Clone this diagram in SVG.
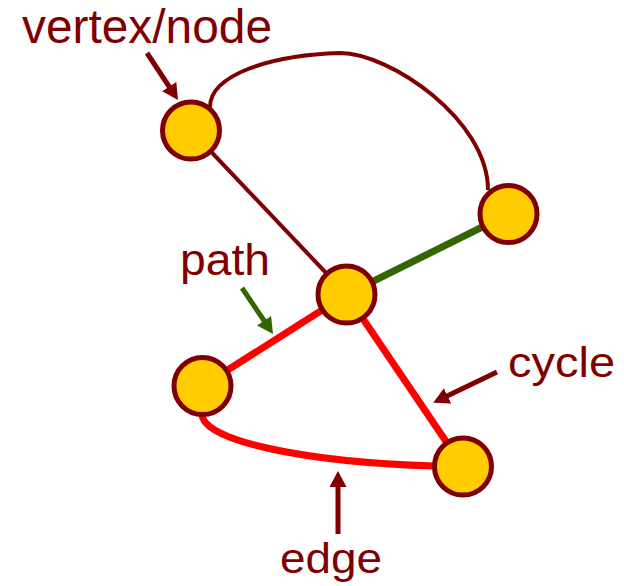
<svg xmlns="http://www.w3.org/2000/svg" width="624" height="586" viewBox="0 0 624 586">
<style>
.lbl{font-family:"Liberation Sans",Arial,sans-serif;fill:#800000}
.node{fill:#FFCC00;stroke:#800000;stroke-width:5}
.thin{fill:none;stroke:#800000;stroke-width:4}
.red{fill:none;stroke:#FF0000;stroke-width:7}
.green{fill:none;stroke:#336600;stroke-width:7}
.arr{fill:none;stroke-width:5}
</style>
<defs>
<marker id="ahR" viewBox="0 0 16 17" markerWidth="16" markerHeight="17" refX="4" refY="8.5" orient="auto" markerUnits="userSpaceOnUse"><path d="M0,0 L16,8.5 L0,17 z" fill="#800000"/></marker>
<marker id="ahG" viewBox="0 0 16 17" markerWidth="16" markerHeight="17" refX="4" refY="8.5" orient="auto" markerUnits="userSpaceOnUse"><path d="M0,0 L16,8.5 L0,17 z" fill="#336600"/></marker>
</defs>
<g id="connectors">
<path class="thin" d="M210,107 C210,75 270,55 340,53 C390,53 488,120 488,190"/>
<line class="thin" x1="191" y1="130.5" x2="346.5" y2="294.5"/>
<line class="green" x1="346.5" y1="294.5" x2="508.5" y2="214"/>
<line class="red" x1="346.5" y1="294.5" x2="202.5" y2="386"/>
<line class="red" x1="346.5" y1="294.5" x2="463" y2="466.5"/>
<path class="red" d="M202,414 C202,440 300,462 435,466"/>
</g>
<g id="annotations">
<line class="arr" stroke="#800000" x1="147" y1="53" x2="171.4" y2="90" marker-end="url(#ahR)"/>
<line class="arr" stroke="#336600" x1="242" y1="288" x2="266.3" y2="324" marker-end="url(#ahG)"/>
<line class="arr" stroke="#800000" x1="497" y1="372" x2="444" y2="397.6" marker-end="url(#ahR)"/>
<line class="arr" stroke="#800000" x1="338" y1="534" x2="338" y2="483" marker-end="url(#ahR)"/>
</g>
<g id="nodeA"><circle class="node" cx="191" cy="130.5" r="28.5"/></g>
<g id="nodeB"><circle class="node" cx="508.5" cy="214" r="28.5"/></g>
<g id="nodeC"><circle class="node" cx="346.5" cy="294.5" r="28.5"/></g>
<g id="nodeD"><circle class="node" cx="202.5" cy="386" r="28.5"/></g>
<g id="nodeE"><circle class="node" cx="463" cy="466.5" r="28.5"/></g>
<g id="labels">
<text class="lbl" x="22" y="43" font-size="48" textLength="250" lengthAdjust="spacingAndGlyphs">vertex/node</text>
<text class="lbl" x="180" y="275" font-size="45" textLength="90" lengthAdjust="spacingAndGlyphs">path</text>
<text class="lbl" x="508" y="377" font-size="43" textLength="107" lengthAdjust="spacingAndGlyphs">cycle</text>
<text class="lbl" x="280" y="573" font-size="42" textLength="102" lengthAdjust="spacingAndGlyphs">edge</text>
</g>
</svg>
